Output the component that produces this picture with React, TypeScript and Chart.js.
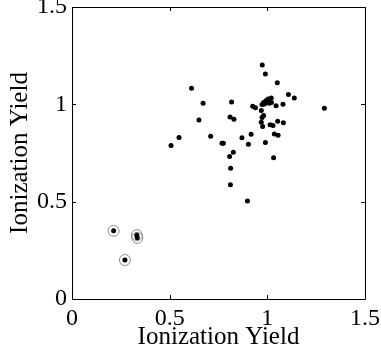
import React, { useEffect, useRef } from "react";
import { Chart, registerables } from "chart.js";

Chart.register(...registerables);

const xMain = [
  0.974, 0.990, 1.051, 0.612, 1.108, 1.138, 0.671, 0.817, 0.925, 0.939,
  0.973, 0.981, 0.993, 1.004, 1.020, 0.986, 1.010, 1.021, 1.045, 1.080,
  1.292, 0.969, 0.981, 0.973, 0.969, 0.976, 1.014, 1.029, 1.053, 1.082,
  0.650, 0.809, 0.829, 0.548, 0.507, 0.710, 0.768, 0.775, 0.870, 0.917,
  0.903, 0.990, 1.036, 1.055, 0.826, 0.807, 1.032, 0.812, 0.811, 0.898,
];
const yMain = [
  1.202, 1.156, 1.111, 1.082, 1.050, 1.033, 1.005, 1.012, 0.990, 0.982,
  0.999, 1.010, 1.019, 1.028, 1.033, 1.002, 1.005, 1.010, 0.993, 1.000,
  0.980, 0.968, 0.942, 0.933, 0.908, 0.886, 0.895, 0.891, 0.913, 0.905,
  0.920, 0.935, 0.923, 0.830, 0.789, 0.836, 0.800, 0.800, 0.828, 0.846,
  0.795, 0.804, 0.848, 0.841, 0.754, 0.732, 0.726, 0.672, 0.587, 0.503,
];
const xCircled = [0.213, 0.332, 0.334, 0.271];
const yCircled = [0.350, 0.328, 0.314, 0.200];
const tickValues = [0, 0.5, 1, 1.5];
const axisTitle = "Ionization Yield";

const FONT = "'Liberation Serif', 'Times New Roman', serif";

const toPts = (xs: number[], ys: number[]) => xs.map((x, i) => ({ x, y: ys[i] }));

const boxPlugin = {
  id: "boxTicks",
  afterDraw(chart: any) {
    const { ctx, chartArea } = chart;
    const { left, right, top, bottom } = chartArea;
    const xs = chart.scales.x;
    const ys = chart.scales.y;
    const len = 4;
    ctx.save();
    ctx.strokeStyle = "#000";
    ctx.lineWidth = 1;
    ctx.beginPath();
    ctx.rect(Math.round(left) + 0.5, Math.round(top) + 0.5, Math.round(right - left), Math.round(bottom - top));
    ctx.stroke();
    ctx.beginPath();
    tickValues.forEach((v) => {
      const px = Math.round(xs.getPixelForValue(v)) + 0.5;
      ctx.moveTo(px, bottom);
      ctx.lineTo(px, bottom - len);
      ctx.moveTo(px, top);
      ctx.lineTo(px, top + len);
      const py = Math.round(ys.getPixelForValue(v)) + 0.5;
      ctx.moveTo(left, py);
      ctx.lineTo(left + len, py);
      ctx.moveTo(right, py);
      ctx.lineTo(right - len, py);
    });
    ctx.stroke();
    ctx.restore();
  },
};

export default function App() {
  const ref = useRef<HTMLCanvasElement | null>(null);
  useEffect(() => {
    if (!ref.current) return;
    const tickFont = { family: FONT, size: 24 };
    const titleFont = { family: FONT, size: 25 };
    const chart = new Chart(ref.current, {
      type: "scatter",
      data: {
        datasets: [
          {
            data: toPts(xMain, yMain),
            pointRadius: 2.5,
            pointBackgroundColor: "#000",
            pointBorderWidth: 0,
            order: 0,
          },
          {
            data: toPts(xCircled, yCircled),
            pointRadius: 2.5,
            pointBackgroundColor: "#000",
            pointBorderWidth: 0,
            order: 1,
          },
          {
            data: toPts(xCircled, yCircled),
            pointRadius: 5.5,
            pointBackgroundColor: "rgba(0,0,0,0)",
            pointBorderColor: "#8a8a8a",
            pointBorderWidth: 1,
            order: 2,
          },
        ],
      },
      options: {
        responsive: false,
        animation: false,
        events: [],
        layout: { padding: { left: 0, right: 16, top: 7, bottom: 0 } },
        plugins: { legend: { display: false }, tooltip: { enabled: false } },
        scales: {
          x: {
            type: "linear",
            min: 0,
            max: 1.5,
            grid: { display: false, drawTicks: false },
            border: { display: false },
            ticks: {
              stepSize: 0.5,
              color: "#000",
              font: tickFont,
              padding: 5,
              autoSkip: false,
              maxRotation: 0,
              callback: (v: any) => String(v),
            },
            title: {
              display: true,
              text: axisTitle,
              color: "#000",
              font: titleFont,
              padding: { top: 0, bottom: 10 },
            },
            afterFit: (s: any) => {
              s.height = 63;
              s.paddingLeft = 0;
              s.paddingRight = 0;
            },
          },
          y: {
            type: "linear",
            min: 0,
            max: 1.5,
            grid: { display: false, drawTicks: false },
            border: { display: false },
            ticks: {
              stepSize: 0.5,
              color: "#000",
              font: tickFont,
              padding: 5,
              autoSkip: false,
              callback: (v: any) => String(v),
            },
            title: {
              display: true,
              text: axisTitle,
              color: "#000",
              font: titleFont,
              padding: { top: 5, bottom: 0 },
            },
            afterFit: (s: any) => {
              s.width = 72;
              s.paddingTop = 0;
              s.paddingBottom = 0;
            },
          },
        },
      },
      plugins: [boxPlugin],
    });
    return () => chart.destroy();
  }, []);
  return (
    <div style={{ position: "fixed", left: 0, top: 0, width: 381, height: 362, background: "#fff" }}>
      <canvas ref={ref} width={381} height={362} style={{ display: "block" }} />
    </div>
  );
}
